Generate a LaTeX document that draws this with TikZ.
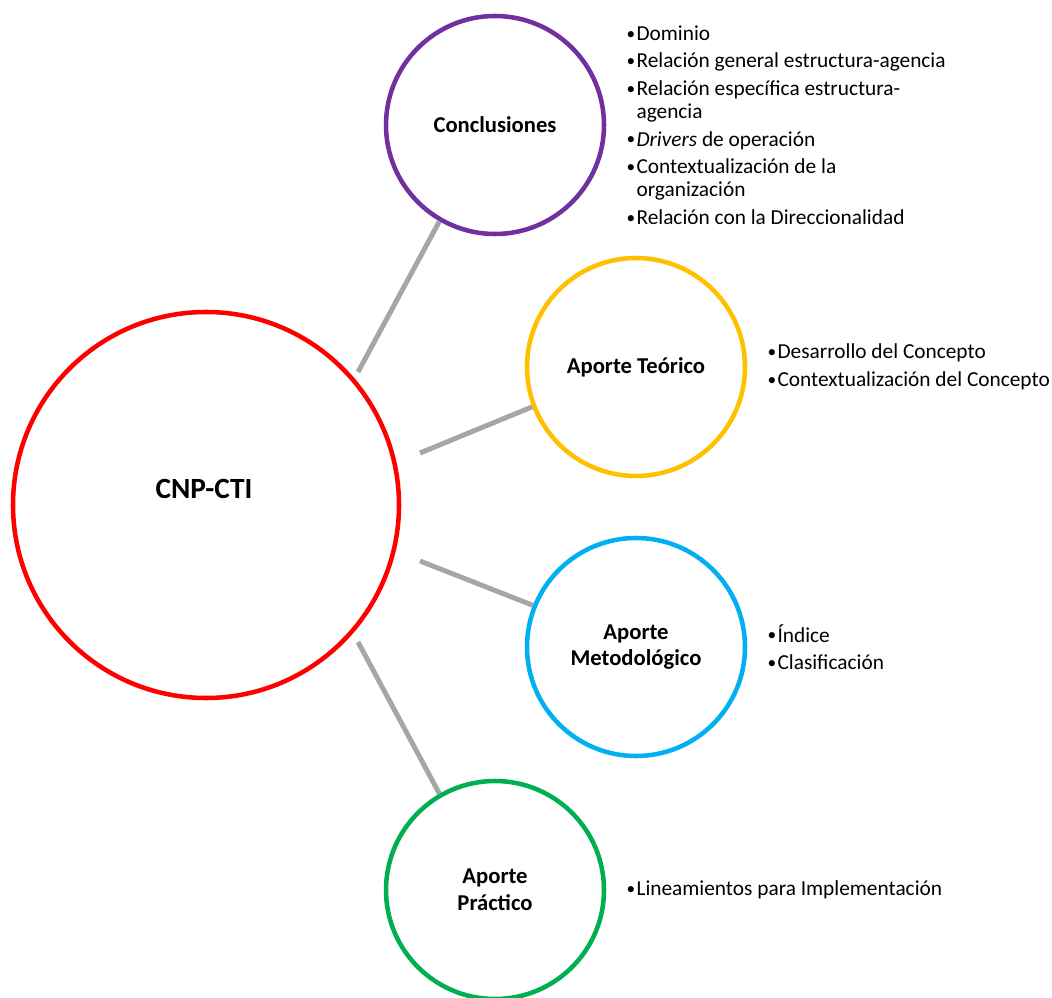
\documentclass[tikz,border=0pt]{standalone}
\usepackage{fontspec}
\setmainfont{Carlito}
\definecolor{redring}{RGB}{255,0,0}
\definecolor{purplering}{RGB}{112,48,160}
\definecolor{goldring}{RGB}{255,192,0}
\definecolor{bluering}{RGB}{0,176,240}
\definecolor{greenring}{RGB}{0,176,80}
\definecolor{linkgray}{RGB}{166,166,166}
\usetikzlibrary{positioning,calc}
\newcommand{\bul}{\makebox[7.5pt][l]{\raisebox{0.8pt}{\fontsize{13}{13}\selectfont\textbullet}}}
\newcommand{\ind}{\hspace*{7.5pt}}

\begin{document}
\begin{tikzpicture}[x=0.75pt, y=0.75pt,
    ring/.style={circle, line width=3.4pt, minimum size=163.5pt, align=center,
        font=\fontsize{17}{20}\selectfont\bfseries},
    link/.style={linkgray, line width=3.7pt},
    items/.style={align=left, inner sep=0pt, font=\fontsize{16}{17.25}\selectfont}]
    \useasboundingbox (0,0) rectangle (1052,997);

    % Central circle
    \node[ring, draw=redring, minimum size=289.5pt] (cnp) at (206,492) {};
    \node[font=\fontsize{22}{26}\selectfont\bfseries] (cnplabel) at (204,508) {CNP-CTI};

    % Outer circles
    \node[ring, draw=purplering] (concl) at (495,872) {Conclusiones};
    \node[ring, draw=goldring] (teo) at (636,630) {Aporte Teórico};
    \node[ring, draw=bluering] (met) at (636,350) {Aporte\\Metodológico};
    \node[ring, draw=greenring] (prac) at (495,107) {Aporte\\Práctico};

    % Connectors
    \coordinate (s1) at ($(cnp.center)+(152,133)$);
    \coordinate (s2) at ($(cnp.center)+(214,52)$);
    \coordinate (s3) at ($(cnp.center)+(214,-56)$);
    \coordinate (s4) at ($(cnp.center)+(152,-137)$);
    \draw[link] (s1) -- (concl.240);
    \draw[link] (s2) -- (teo.201);
    \draw[link] (s3) -- (met.158);
    \draw[link] (s4) -- (prac.120);

    % Bullet lists
    \node[items, right=15pt of concl] (conclitems) {%
        \bul Dominio\\[3.4pt]
        \bul Relación general estructura-agencia\\[3.4pt]
        \bul Relación específica estructura-\\
        \ind agencia\\[3.4pt]
        \bul \textit{Drivers} de operación\\[3.4pt]
        \bul Contextualización de la\\
        \ind organización\\[3.4pt]
        \bul Relación con la Direccionalidad};
    \node[items, right=15pt of teo] (teoitems) {%
        \bul Desarrollo del Concepto\\[3.4pt]
        \bul Contextualización del Concepto};
    \node[items, right=15pt of met] (metitems) {%
        \bul Índice\\[3.4pt]
        \bul Clasificación};
    \node[items, right=15pt of prac] (pracitems) {%
        \bul Lineamientos para Implementación};
\end{tikzpicture}
\end{document}
